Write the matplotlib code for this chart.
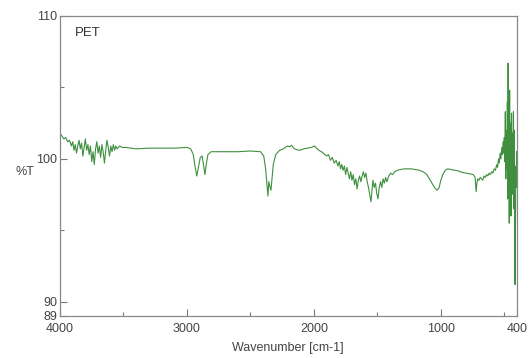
import matplotlib.pyplot as plt
from matplotlib.ticker import FixedLocator

plt.rcParams['font.family'] = ['Liberation Sans', 'DejaVu Sans']

# spectrum (wavenumber, %T)
wavenumber = [
    4000, 3985, 3970, 3955, 3940, 3925, 3910, 3900, 3890, 3880,
    3870, 3860, 3850, 3840, 3830, 3820, 3810, 3800, 3790, 3780,
    3770, 3760, 3750, 3740, 3730, 3720, 3710, 3700, 3690, 3680,
    3670, 3660, 3650, 3640, 3630, 3620, 3610, 3600, 3590, 3580,
    3570, 3560, 3550, 3530, 3510, 3480, 3400, 3300, 3200, 3100,
    3000, 2970, 2950, 2935, 2922, 2912, 2895, 2880, 2868, 2858,
    2848, 2835, 2810, 2700, 2600, 2500, 2420, 2395, 2380, 2370,
    2362, 2355, 2345, 2338, 2330, 2320, 2300, 2270, 2240, 2210,
    2190, 2175, 2160, 2140, 2110, 2080, 2050, 2020, 1995, 1980,
    1960, 1940, 1920, 1900, 1885, 1870, 1855, 1840, 1825, 1810,
    1800, 1790, 1780, 1770, 1760, 1750, 1740, 1730, 1720, 1710,
    1700, 1690, 1680, 1670, 1660, 1650, 1640, 1630, 1620, 1610,
    1600, 1590, 1580, 1570, 1560, 1550, 1542, 1535, 1525, 1515,
    1505, 1495, 1485, 1475, 1465, 1455, 1445, 1435, 1425, 1410,
    1395, 1380, 1365, 1340, 1320, 1290, 1260, 1230, 1200, 1170,
    1140, 1110, 1090, 1070, 1050, 1030, 1015, 1000, 985, 965,
    945, 920, 890, 860, 830, 800, 770, 745, 730, 722,
    716, 710, 700, 690, 680, 670, 660, 650, 640, 630,
    620, 610, 600, 590, 580, 570, 560, 553, 546, 540,
    533, 527, 520, 515, 510, 505, 500, 496, 492, 488,
    484, 480, 476, 473, 470, 467, 464, 461, 458, 455,
    451, 447, 443, 439, 435, 431, 428, 425, 421, 418,
    415, 412, 409, 406, 403, 400,
]
transmittance = [
    101.8, 101.6, 101.4, 101.5, 101.2, 101.3, 100.9, 101.2, 100.6, 101.0,
    100.4, 100.9, 101.3, 100.7, 101.1, 100.2, 100.8, 101.4, 100.6, 101.0,
    100.3, 100.9, 99.8, 100.5, 99.6, 100.7, 101.2, 100.4, 100.9, 100.1,
    101.0, 100.5, 99.7, 100.6, 101.3, 100.8, 100.2, 100.9, 100.5, 101.0,
    100.6, 100.9, 100.7, 100.9, 100.8, 100.8, 100.7, 100.75, 100.75, 100.75,
    100.8, 100.7, 100.3, 99.4, 98.8, 99.3, 100.1, 100.2, 99.5, 98.9,
    99.6, 100.3, 100.5, 100.5, 100.5, 100.55, 100.5, 100.2, 99.3, 98.2,
    97.4, 98.4, 98.0, 97.8, 98.6, 99.6, 100.3, 100.6, 100.7, 100.9,
    100.85, 100.95, 100.75, 100.65, 100.6, 100.7, 100.75, 100.8, 100.9, 100.75,
    100.6, 100.5, 100.35, 100.2, 100.3, 99.9, 100.1, 99.7, 99.9, 99.5,
    99.8, 99.3, 99.6, 99.2, 99.5, 98.9, 99.4, 99.0, 98.6, 99.1,
    98.5, 98.9, 98.2, 98.6, 97.9, 98.5, 98.8, 98.4, 98.8, 99.1,
    98.7, 99.0, 98.4, 98.0, 97.5, 97.0, 97.8, 98.5, 98.0, 98.3,
    97.6, 97.2, 98.0, 98.4, 98.0, 98.6, 98.3, 98.7, 98.4, 98.8,
    99.0, 98.9, 99.1, 99.2, 99.25, 99.3, 99.3, 99.3, 99.25, 99.2,
    99.1, 98.9, 98.6, 98.3, 98.0, 97.8, 97.95, 98.5, 98.9, 99.2,
    99.3, 99.25, 99.2, 99.15, 99.05, 99.0, 98.95, 98.9, 98.7, 97.7,
    98.3, 98.6, 98.5, 98.7, 98.6, 98.5, 98.8, 98.7, 98.9, 98.8,
    99.0, 98.9, 99.1, 99.0, 99.3, 99.2, 99.6, 99.4, 100.0, 99.7,
    100.4, 100.0, 100.8, 100.3, 101.2, 100.4, 101.5, 99.8, 103.3, 98.6,
    102.0, 99.3, 104.0, 97.2, 106.7, 99.0, 103.5, 95.5, 104.8, 98.0,
    102.5, 96.0, 103.2, 99.0, 101.8, 97.5, 103.3, 96.5, 102.0, 93.5,
    91.2, 96.0, 99.5, 98.0, 100.5, 99.0,
]

x_ticks = [4000, 3000, 2000, 1000, 400]
x_minor = [3500, 2500, 1500, 500]
y_ticks = [110, 100, 90, 89]
y_minor = [105, 95]

fig = plt.figure(figsize=(5.3, 3.58), dpi=100)
ax = fig.add_axes([60 / 530, 1 - 316 / 358, 457 / 530, 300 / 358])

ax.plot(wavenumber, transmittance, color='#3f8f3f', lw=0.8)

ax.set_xlim(4000, 400)
ax.set_ylim(89, 110)

ax.xaxis.set_major_locator(FixedLocator(x_ticks))
ax.xaxis.set_minor_locator(FixedLocator(x_minor))
ax.yaxis.set_major_locator(FixedLocator(y_ticks))
ax.yaxis.set_minor_locator(FixedLocator(y_minor))
ax.set_xticklabels([str(t) for t in x_ticks])
ax.set_yticklabels([str(t) for t in y_ticks])

ax.tick_params(which='both', direction='in', colors='#777777', labelcolor='#444444',
               labelsize=9, width=0.8)
ax.tick_params(which='major', length=5)
ax.tick_params(which='minor', length=3)
ax.tick_params(axis='x', pad=5)
ax.tick_params(axis='y', pad=2)
for s in ax.spines.values():
    s.set_color('#888888')
    s.set_linewidth(0.9)

# sample name inside the frame, top left
ax.text(15 / 457, 1 - 17 / 300, 'PET', transform=ax.transAxes, fontsize=9.5,
        color='#333333', va='center', ha='left')
fig.text(25 / 530, 1 - 172 / 358, '%T', fontsize=9, color='#444444',
         ha='center', va='center')
fig.text(288 / 530, 1 - 348 / 358, 'Wavenumber [cm-1]', fontsize=9, color='#444444',
         ha='center', va='center')

fig.savefig('out.png', dpi=100)
